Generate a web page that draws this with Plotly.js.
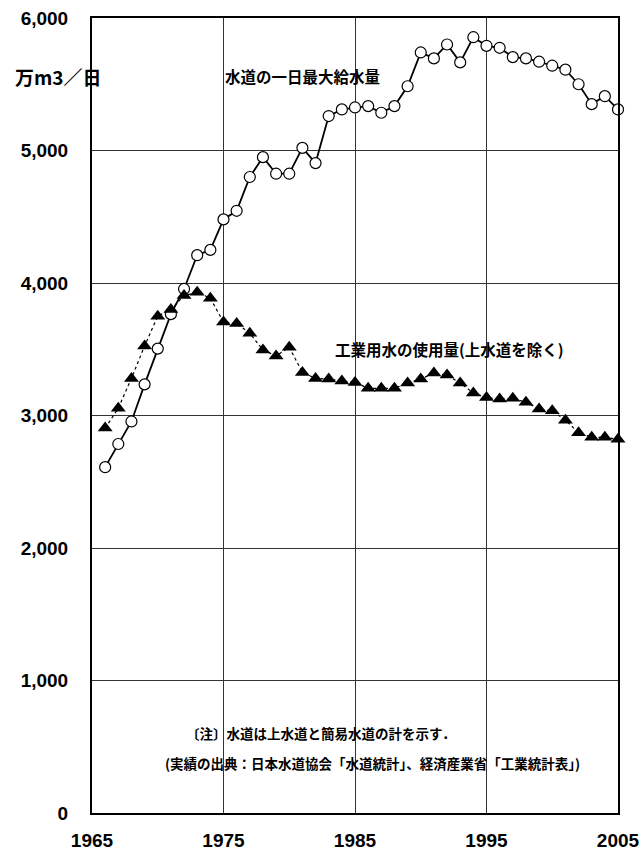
<!DOCTYPE html>
<html>
<head>
<meta charset="utf-8">
<script src="https://cdn.plot.ly/plotly-3.0.1.min.js"></script>
<style>
  html, body { margin: 0; padding: 0; background: #fff; }
  #chart { width: 639px; height: 855px; }
</style>
</head>
<body>
<div id="chart"></div>
<script>
// Years
const yearsSupply = [1966,1967,1968,1969,1970,1971,1972,1973,1974,1975,1976,1977,1978,1979,1980,
  1981,1982,1983,1984,1985,1986,1987,1988,1989,1990,1991,1992,1993,1994,1995,1996,1997,1998,1999,
  2000,2001,2002,2003,2004,2005];
// 水道の一日最大給水量 (万m3/日)
const maxDailySupply = [2610,2785,2955,3235,3505,3765,3955,4210,4250,4480,4545,4800,4950,4825,4825,
  5020,4905,5260,5310,5325,5335,5285,5335,5485,5740,5695,5800,5665,5855,5790,5775,5705,5695,5670,
  5640,5610,5500,5350,5410,5310];
// 工業用水の使用量(上水道を除く) (万m3/日)
const yearsIndustrial = yearsSupply;
const industrialUse = [2905,3055,3280,3525,3750,3800,3905,3930,3885,3705,3695,3620,3495,3450,3515,
  3325,3280,3275,3260,3250,3205,3205,3205,3245,3275,3320,3305,3245,3170,3135,3125,3130,3100,3050,
  3035,2965,2870,2835,2835,2820];

const yTickVals = [0,1000,2000,3000,4000,5000,6000];
const yTickText = ['0','1,000','2,000','3,000','4,000','5,000','6,000'];
const xTickVals = [1965,1975,1985,1995,2005];
const xTickText = ['1965','1975','1985','1995','2005'];

const JP = '"Noto Sans CJK JP", "Noto Sans", sans-serif';
const NUM = '"Liberation Sans", Arial, sans-serif';

const traces = [
  {
    x: yearsSupply, y: maxDailySupply, type: 'scatter', mode: 'lines+markers',
    line: { color: '#000', width: 1.8 }, cliponaxis: false,
    marker: { symbol: 'circle', size: 11, color: '#fff', line: { color: '#000', width: 1.2 } },
    showlegend: false, hoverinfo: 'skip'
  },
  {
    x: yearsIndustrial, y: industrialUse, type: 'scatter', mode: 'lines+markers',
    line: { color: '#000', width: 1.2, dash: 'dot' }, cliponaxis: false,
    marker: { symbol: 'triangle-up', size: 13, color: '#000', line: { color: '#000', width: 0 } },
    showlegend: false, hoverinfo: 'skip'
  }
];

const layout = {
  width: 639, height: 855,
  margin: { l: 92, r: 21, t: 18, b: 42 },
  paper_bgcolor: '#fff', plot_bgcolor: '#fff',
  showlegend: false,
  xaxis: {
    range: [1965, 2005], tickvals: xTickVals, ticktext: xTickText,
    showgrid: true, gridcolor: '#333', gridwidth: 1,
    showline: true, linecolor: '#000', linewidth: 2, mirror: true,
    zeroline: false, ticks: 'outside', ticklen: 9, tickcolor: 'rgba(0,0,0,0)',
    ticklabeloverflow: 'allow',
    tickfont: { family: NUM, size: 19, color: '#000', weight: 'bold' }
  },
  yaxis: {
    range: [0, 6000], tickvals: yTickVals, ticktext: yTickText,
    showgrid: true, gridcolor: '#333', gridwidth: 1,
    showline: true, linecolor: '#000', linewidth: 2, mirror: true,
    zeroline: false, ticks: '', ticklabelstandoff: 18,
    tickfont: { family: NUM, size: 19, color: '#000', weight: 'bold' }
  },
  annotations: [
    { xref: 'paper', yref: 'paper', x: -0.150, y: 0.926, xanchor: 'left', yanchor: 'middle',
      text: '万m3／日', showarrow: false,
      font: { family: JP, size: 19, color: '#000', weight: 'bold' } },
    { xref: 'x', yref: 'y', x: 1981, y: 5560, xanchor: 'center', yanchor: 'middle',
      text: '水道の一日最大給水量', showarrow: false,
      font: { family: JP, size: 15.5, color: '#000', weight: 'bold' } },
    { xref: 'x', yref: 'y', x: 1992.2, y: 3500, xanchor: 'center', yanchor: 'middle',
      text: '工業用水の使用量(上水道を除く)', showarrow: false,
      font: { family: JP, size: 15.5, color: '#000', weight: 'bold' } },
    { xref: 'x', yref: 'y', x: 1982.4, y: 604, xanchor: 'center', yanchor: 'middle',
      text: '〔注〕水道は上水道と簡易水道の計を示す．', showarrow: false,
      font: { family: JP, size: 13.5, color: '#000', weight: 'bold' } },
    { xref: 'x', yref: 'y', x: 1986.3, y: 377, xanchor: 'center', yanchor: 'middle',
      text: '(実績の出典：日本水道協会「水道統計」、経済産業省「工業統計表」)', showarrow: false,
      font: { family: JP, size: 13.5, color: '#000', weight: 'bold' } }
  ]
};

Plotly.newPlot('chart', traces, layout, { displayModeBar: false, staticPlot: true });
</script>
</body>
</html>
